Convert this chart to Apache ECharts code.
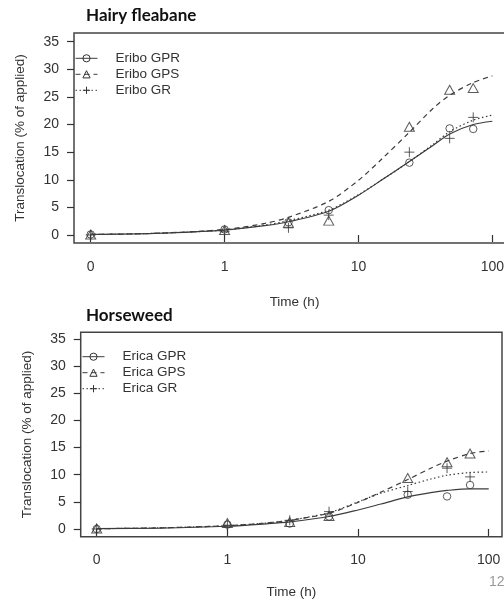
<!DOCTYPE html>
<html>
<head>
<meta charset="utf-8">
<script src="https://cdn.jsdelivr.net/npm/echarts@6/dist/echarts.min.js"></script>
<style>
  html, body { margin: 0; padding: 0; background: #fff; }
  #chart { width: 504px; height: 604px; }
</style>
</head>
<body>
<div id="chart"></div>
<script>
// 测量时间点 (h)
var pointTimes = [0, 1, 3, 6, 24, 48, 72]
// 拟合曲线读取时间点 (h)
var curveTimes = [0, 0.3, 1, 2, 3, 6, 10, 15, 24, 36, 48, 72, 100]

var xTicks = [0.1, 1, 10, 100]
var yTicks = [0, 5, 10, 15, 20, 25, 30, 35]

// Hairy fleabane
var eriboNames = ['Eribo GPR', 'Eribo GPS', 'Eribo GR']
var eriboGPR = [0.1, 1.0, 2.3, 4.5, 13.1, 19.3, 19.2]
var eriboGPS = [0.1, 0.9, 2.2, 2.6, 19.6, 26.3, 26.6]
var eriboGR = [0.0, 0.6, 1.3, 3.6, 15.0, 17.5, 21.3]
var eriboGPRFit = [0.1, 0.3, 0.9, 1.7, 2.4, 4.3, 7.2, 10.0, 13.3, 16.2, 18.3, 20.0, 20.6]
var eriboGPSFit = [0.1, 0.3, 1.0, 2.1, 3.2, 6.1, 9.9, 13.8, 18.6, 22.9, 25.3, 27.6, 28.8]
var eriboGRFit = [0.1, 0.3, 0.9, 1.8, 2.6, 4.5, 7.3, 10.0, 13.3, 16.4, 18.7, 20.8, 21.7]

// Horseweed
var ericaNames = ['Erica GPR', 'Erica GPS', 'Erica GR']
var ericaGPR = [0.0, 0.8, 1.0, 2.3, 6.3, 6.0, 8.1]
var ericaGPS = [0.1, 1.1, 1.3, 2.4, 9.4, 12.3, 13.9]
var ericaGR = [0.0, 0.7, 1.6, 3.2, 6.9, 11.2, 9.6]
var ericaGPRFit = [0.05, 0.15, 0.5, 0.95, 1.3, 2.3, 3.5, 4.6, 5.9, 6.7, 7.1, 7.4, 7.4]
var ericaGPSFit = [0.05, 0.2, 0.6, 1.1, 1.6, 2.9, 4.9, 6.8, 9.1, 11.2, 12.5, 13.9, 14.4]
var ericaGRFit = [0.05, 0.2, 0.6, 1.1, 1.6, 3.0, 5.0, 6.6, 8.0, 9.2, 9.9, 10.4, 10.5]

var ink = '#333'
var lineInk = '#3c3c3c'
var font = 'Liberation Sans'
var plus = 'path://M5,0L5,10M0,5L10,5'
var symbols = ['circle', 'triangle', plus]
var symbolSizes = [7.5, [10, 9], 10]
var dashes = ['solid', [5, 4], [1.5, 2.5]]

// 0 画在对数轴的 0.1 位置
function xPos(t) {
  return t === 0 ? 0.1 : t
}

function pairs(times, values) {
  return values.map(function (v, i) { return [xPos(times[i]), v] })
}

function panelSeries(idx, names, points, fits) {
  var out = []
  names.forEach(function (name, i) {
    out.push({
      name: name,
      type: 'line',
      xAxisIndex: idx,
      yAxisIndex: idx,
      smooth: 0.3,
      symbol: symbols[i],
      showSymbol: false,
      silent: true,
      itemStyle: { color: 'transparent', borderColor: ink, borderWidth: 1 },
      lineStyle: { color: lineInk, width: 1.2, type: dashes[i] },
      data: pairs(curveTimes, fits[i])
    })
    out.push({
      name: name + ' obs',
      type: 'scatter',
      xAxisIndex: idx,
      yAxisIndex: idx,
      symbol: symbols[i],
      symbolSize: symbolSizes[i],
      silent: true,
      itemStyle: { color: 'transparent', borderColor: ink, borderWidth: 1 },
      data: pairs(pointTimes, points[i])
    })
  })
  return out
}

function xAxisCfg(idx, min, max, margin, gap) {
  return {
    type: 'log',
    gridIndex: idx,
    min: min,
    max: max,
    name: 'Time (h)',
    nameLocation: 'middle',
    nameGap: gap,
    nameTextStyle: { color: ink, fontSize: 13.5, fontFamily: font },
    axisLine: { show: false },
    splitLine: { show: false },
    minorTick: { show: false },
    axisTick: { show: true, inside: false, length: 7, customValues: xTicks, lineStyle: { color: ink, width: 1.2 } },
    axisLabel: {
      customValues: xTicks,
      margin: margin,
      color: ink,
      fontSize: 14,
      fontFamily: font,
      formatter: function (v) { return v < 0.5 ? '0' : String(Math.round(v)) }
    }
  }
}

function yAxisCfg(idx, min, max, gap) {
  return {
    type: 'value',
    gridIndex: idx,
    min: min,
    max: max,
    name: 'Translocation (% of applied)',
    nameLocation: 'middle',
    nameGap: gap,
    nameTextStyle: { color: ink, fontSize: 13.5, fontFamily: font },
    axisLine: { show: false },
    splitLine: { show: false },
    axisTick: { show: true, inside: false, length: 7, customValues: yTicks, lineStyle: { color: ink, width: 1.2 } },
    axisLabel: { customValues: yTicks, margin: 15, color: ink, fontSize: 14, fontFamily: font }
  }
}

function legendCfg(left, top, names) {
  return {
    orient: 'vertical',
    left: left,
    top: top,
    padding: 0,
    itemWidth: 22,
    itemHeight: 9,
    itemGap: 0,
    selectedMode: false,
    data: names,
    itemStyle: { color: 'transparent', borderColor: ink, borderWidth: 1 },
    lineStyle: { width: 1 },
    textStyle: { color: ink, fontSize: 13.5, fontFamily: font, lineHeight: 16, padding: [0, 0, 0, 13] }
  }
}

var chart = echarts.init(document.getElementById('chart'), null, { renderer: 'canvas' })

var titleStyle = { color: '#111', fontSize: 17, fontWeight: 'bold', fontFamily: 'Lato' }

chart.setOption({
  backgroundColor: '#fff',
  animation: false,
  title: [
    { text: 'Hairy fleabane', left: 86, top: 7, padding: 0, textStyle: titleStyle },
    { text: 'Horseweed', left: 86, top: 307, padding: 0, textStyle: titleStyle }
  ],
  legend: [
    legendCfg(75, 50.3, eriboNames),
    legendCfg(82, 348.7, ericaNames)
  ],
  grid: [
    { left: 74, top: 33, width: 441, height: 210, outerBoundsMode: 'none', show: true, borderColor: '#444', borderWidth: 1.5, backgroundColor: 'transparent' },
    { left: 80.7, top: 332.3, width: 421.3, height: 204.4, outerBoundsMode: 'none', show: true, borderColor: '#444', borderWidth: 1.5, backgroundColor: 'transparent' }
  ],
  xAxis: [
    xAxisCfg(0, 0.07504, 147.7, 17, 52),
    xAxisCfg(1, 0.07541, 126.4, 16, 49)
  ],
  yAxis: [
    yAxisCfg(0, -1.449, 36.575, 47),
    yAxisCfg(1, -1.426, 36.24, 46)
  ],
  graphic: [
    { type: 'text', left: 489, top: 575, style: { text: '12', fill: '#999', fontSize: 14, fontFamily: font } }
  ],
  series: []
    .concat(panelSeries(0, eriboNames, [eriboGPR, eriboGPS, eriboGR], [eriboGPRFit, eriboGPSFit, eriboGRFit]))
    .concat(panelSeries(1, ericaNames, [ericaGPR, ericaGPS, ericaGR], [ericaGPRFit, ericaGPSFit, ericaGRFit]))
})
</script>
</body>
</html>
